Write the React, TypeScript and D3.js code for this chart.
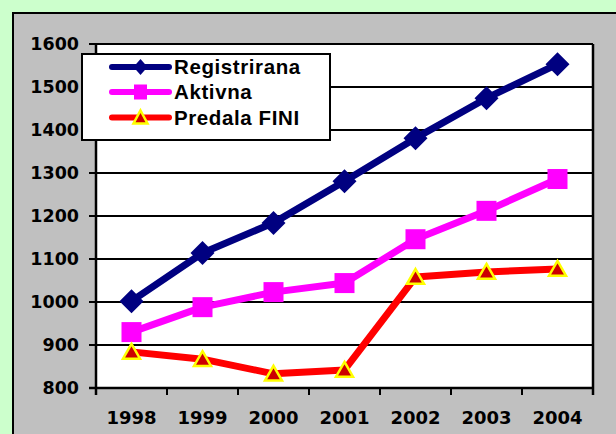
import React from "react";
import * as d3 from "d3";

const years = ["1998", "1999", "2000", "2001", "2002", "2003", "2004"];
const registrirana = [1002, 1114, 1184, 1281, 1381, 1474, 1553];
const aktivna = [930, 988, 1023, 1044, 1146, 1212, 1286];
const predalaFini = [884, 867, 833, 842, 1058, 1070, 1077];
const yTicks = [800, 900, 1000, 1100, 1200, 1300, 1400, 1500, 1600];
const seriesNames = ["Registrirana", "Aktivna", "Predala FINI"];

const W = 616;
const H = 434;
const plot = { left: 96, right: 593, top: 44, bottom: 388 };

export default function App() {
  const x = d3
    .scaleBand<string>()
    .domain(years)
    .range([plot.left, plot.right])
    .paddingInner(0)
    .paddingOuter(0);
  const y = d3.scaleLinear().domain([800, 1600]).range([plot.bottom, plot.top]);
  const cx = (yr: string) => (x(yr) as number) + x.bandwidth() / 2;

  const line = d3
    .line<number>()
    .x((_, i) => cx(years[i]))
    .y((d) => y(d));

  const series = [
    { name: seriesNames[0], data: registrirana, color: "#000080", marker: "diamond" },
    { name: seriesNames[1], data: aktivna, color: "#FF00FF", marker: "square" },
    { name: seriesNames[2], data: predalaFini, color: "#FF0000", marker: "triangle" },
  ];

  // sz: [halfWidth, halfHeight]
  const marker = (type: string, px: number, py: number, color: string, hw: number, hh: number, key: string) => {
    if (type === "diamond") {
      return (
        <path
          key={key}
          d={`M${px},${py - hh}L${px + hw},${py}L${px},${py + hh}L${px - hw},${py}Z`}
          fill={color}
        />
      );
    }
    if (type === "square") {
      return <rect key={key} x={px - hw} y={py - hh} width={2 * hw} height={2 * hh} fill={color} />;
    }
    return (
      <path
        key={key}
        d={`M${px},${py - hh}L${px + hw},${py + hh * 0.85}L${px - hw},${py + hh * 0.85}Z`}
        fill="#CC0000"
        stroke="#FFFF00"
        strokeWidth={2.5}
        strokeLinejoin="miter"
      />
    );
  };

  const dataSize: Record<string, [number, number]> = {
    diamond: [12, 12],
    square: [10, 10],
    triangle: [8.5, 8],
  };
  const legendSize: Record<string, [number, number]> = {
    diamond: [7, 8],
    square: [6.5, 7.5],
    triangle: [7, 7],
  };

  const axisFont = "'DejaVu Sans', Verdana, sans-serif";
  const legendFont = "'Liberation Sans', Arial, sans-serif";

  const legend = { x: 82, y: 54, w: 248, h: 86 };
  const rowY = [67, 92, 117.5];

  return (
    <svg
      width={W}
      height={H}
      style={{ position: "absolute", left: 0, top: 0, display: "block" }}
    >
      <rect x={0} y={0} width={W} height={H} fill="#CCFFCC" />
      <rect x={13} y={13} width={W} height={H} fill="#C0C0C0" stroke="#000" strokeWidth={2} />
      <rect
        x={plot.left}
        y={plot.top}
        width={plot.right - plot.left}
        height={plot.bottom - plot.top}
        fill="#FFFFFF"
      />
      {yTicks.map((t) => (
        <g key={t}>
          <line
            x1={plot.left - 7}
            x2={plot.right}
            y1={y(t)}
            y2={y(t)}
            stroke="#000"
            strokeWidth={t === 800 ? 2.5 : 2}
          />
          <text
            x={79}
            y={y(t)}
            dy="0.36em"
            textAnchor="end"
            fontFamily={axisFont}
            fontWeight="bold"
            fontSize={17.5}
            fill="#000"
          >
            {t}
          </text>
        </g>
      ))}
      <line x1={plot.left} x2={plot.left} y1={plot.top} y2={plot.bottom + 7} stroke="#000" strokeWidth={2.5} />
      <line x1={plot.right} x2={plot.right} y1={plot.top} y2={plot.bottom + 7} stroke="#000" strokeWidth={2.5} />
      {years.map((yr, i) =>
        i > 0 ? (
          <line
            key={"t" + yr}
            x1={x(yr) as number}
            x2={x(yr) as number}
            y1={plot.bottom}
            y2={plot.bottom + 7}
            stroke="#000"
            strokeWidth={2}
          />
        ) : null
      )}
      {years.map((yr) => (
        <text
          key={"l" + yr}
          x={cx(yr)}
          y={424}
          textAnchor="middle"
          fontFamily={axisFont}
          fontWeight="bold"
          fontSize={18}
          fill="#000"
        >
          {yr}
        </text>
      ))}
      {series.map((s) => (
        <g key={s.name}>
          <path
            d={line(s.data) as string}
            fill="none"
            stroke={s.color}
            strokeWidth={7}
            strokeLinejoin="round"
          />
          {s.data.map((v, i) =>
            marker(s.marker, cx(years[i]), y(v), s.color, dataSize[s.marker][0], dataSize[s.marker][1], s.name + i)
          )}
        </g>
      ))}
      <rect
        x={legend.x}
        y={legend.y}
        width={legend.w}
        height={legend.h}
        fill="#FFFFFF"
        stroke="#000"
        strokeWidth={2}
      />
      {series.map((s, i) => (
        <g key={"lg" + s.name}>
          <line
            x1={112}
            x2={169}
            y1={rowY[i]}
            y2={rowY[i]}
            stroke={s.color}
            strokeWidth={6}
            strokeLinecap="round"
          />
          {marker(s.marker, 140.5, rowY[i], s.color, legendSize[s.marker][0], legendSize[s.marker][1], "lm" + i)}
          <text
            x={174}
            y={rowY[i]}
            dy="0.36em"
            fontFamily={legendFont}
            fontWeight="bold"
            fontSize={20.5}
            letterSpacing={0.6}
            fill="#000"
          >
            {s.name}
          </text>
        </g>
      ))}
    </svg>
  );
}
